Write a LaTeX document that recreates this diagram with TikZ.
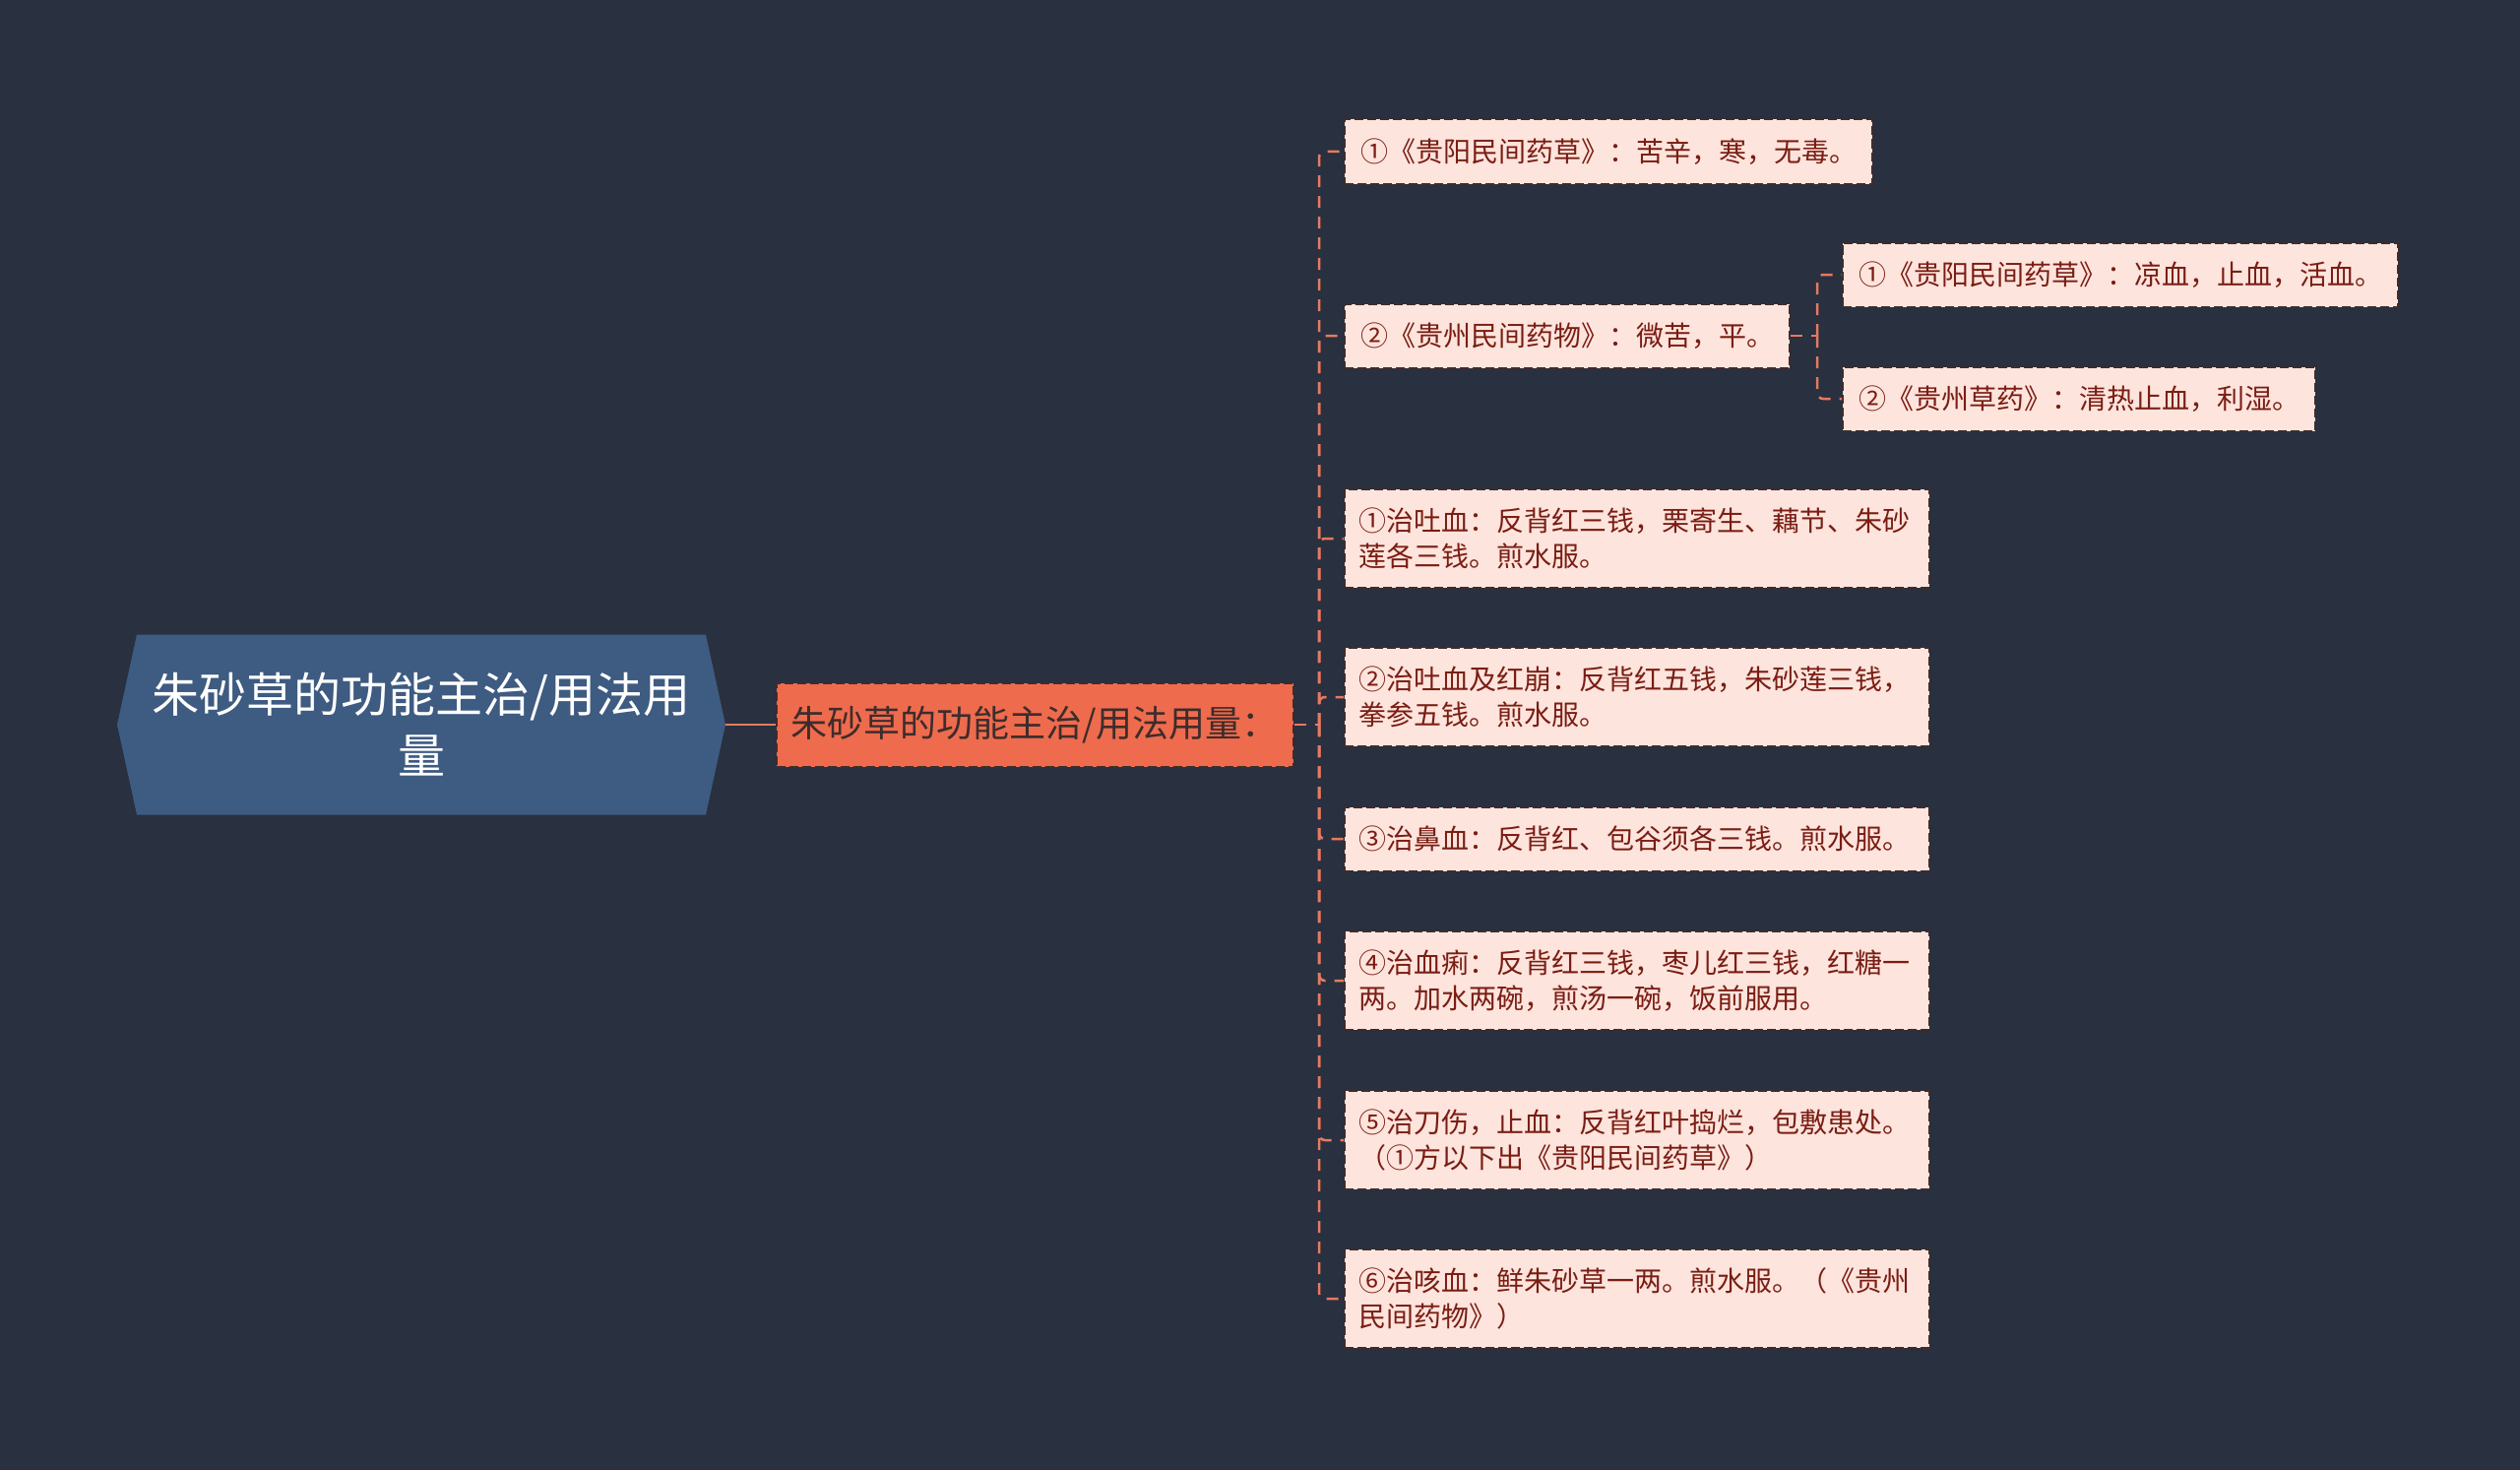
\documentclass[tikz,border=0pt]{standalone}
\usepackage{fontspec}
\newfontfamily\cjk{Noto Sans CJK SC}
\usetikzlibrary{positioning}

\definecolor{bgnavy}{HTML}{29303F}
\definecolor{rootblue}{HTML}{3E5B81}
\definecolor{maincoral}{HTML}{EE6B4D}
\definecolor{leafpink}{HTML}{FDE4DC}
\definecolor{leafedge}{HTML}{3E2C2C}
\definecolor{leaftext}{HTML}{7A1D14}
\definecolor{linkcoral}{HTML}{E57A62}

\tikzset{
  link/.style={draw=linkcoral, line width=2.5pt, dash pattern=on 12pt off 9pt},
  rootbox/.style={minimum width=618pt, minimum height=183pt, inner sep=0pt,
    align=center, text=white, font=\cjk\fontsize{48}{62}\selectfont,
    path picture={\fill[rootblue]
      ([xshift=20pt]path picture bounding box.north west) --
      ([xshift=-20pt]path picture bounding box.north east) --
      (path picture bounding box.east) --
      ([xshift=-20pt]path picture bounding box.south east) --
      ([xshift=20pt]path picture bounding box.south west) --
      (path picture bounding box.west) -- cycle;}},
  mainbox/.style={fill=maincoral, draw=leafedge, line width=2pt,
    dash pattern=on 9pt off 4pt, minimum width=525pt, minimum height=85pt,
    text=leafedge, font=\cjk\fontsize{37}{44}\selectfont},
  leaf/.style={anchor=west, fill=leafpink, draw=leafedge, line width=2pt,
    dash pattern=on 9pt off 4pt, inner xsep=16pt, inner ysep=18.5pt,
    minimum height=65pt, align=left, text=leaftext,
    font=\cjk\fontsize{28}{36}\selectfont},
  recipe/.style={leaf, inner xsep=14pt, text width=566pt}
}

\begin{document}
\begin{tikzpicture}[x=1pt, y=-1pt]
  % 背景
  \fill[bgnavy] (0,0) rectangle (2560,1493);
  \useasboundingbox (0,0) rectangle (2560,1493);

  % 中心主题与分支
  \node[rootbox] (root) at (428,736) {朱砂草的功能主治/用法用\\量};
  \node[mainbox] (main) at (1051,736) {朱砂草的功能主治/用法用量：};

  % 性味与功用
  \node[leaf] (c1) at (1365,154) {①《贵阳民间药草》：苦辛，寒，无毒。};
  \node[leaf] (c2) at (1365,341) {②《贵州民间药物》：微苦，平。};
  \node[leaf] (c2a) at (1871,279) {①《贵阳民间药草》：凉血，止血，活血。};
  \node[leaf] (c2b) at (1871,405) {②《贵州草药》：清热止血，利湿。};

  % 方剂
  \node[recipe] (c3) at (1365,547) {①治吐血：反背红三钱，栗寄生、藕节、朱砂\\莲各三钱。煎水服。};
  \node[recipe] (c4) at (1365,708) {②治吐血及红崩：反背红五钱，朱砂莲三钱，\\拳参五钱。煎水服。};
  \node[recipe] (c5) at (1365,852) {③治鼻血：反背红、包谷须各三钱。煎水服。};
  \node[recipe] (c6) at (1365,996) {④治血痢：反背红三钱，枣儿红三钱，红糖一\\两。加水两碗，煎汤一碗，饭前服用。};
  \node[recipe] (c7) at (1365,1158) {⑤治刀伤，止血：反背红叶捣烂，包敷患处。\\（①方以下出《贵阳民间药草》）};
  \node[recipe] (c8) at (1365,1319) {⑥治咳血：鲜朱砂草一两。煎水服。（《贵州\\民间药物》）};

  % 连线
  \draw[link, solid] (root.east) -- (main.west);
  \coordinate (trunk) at (1340,736);
  \draw[link] (main.east) -- (trunk);
  \foreach \n in {c1,c2,c3,c4,c5,c6,c7,c8}
    \draw[link, rounded corners=6pt] (trunk) |- (\n.west);
  \coordinate (sub) at (1846,341);
  \draw[link] (c2.east) -- (sub);
  \foreach \n in {c2a,c2b}
    \draw[link, rounded corners=6pt] (sub) |- (\n.west);
\end{tikzpicture}
\end{document}
